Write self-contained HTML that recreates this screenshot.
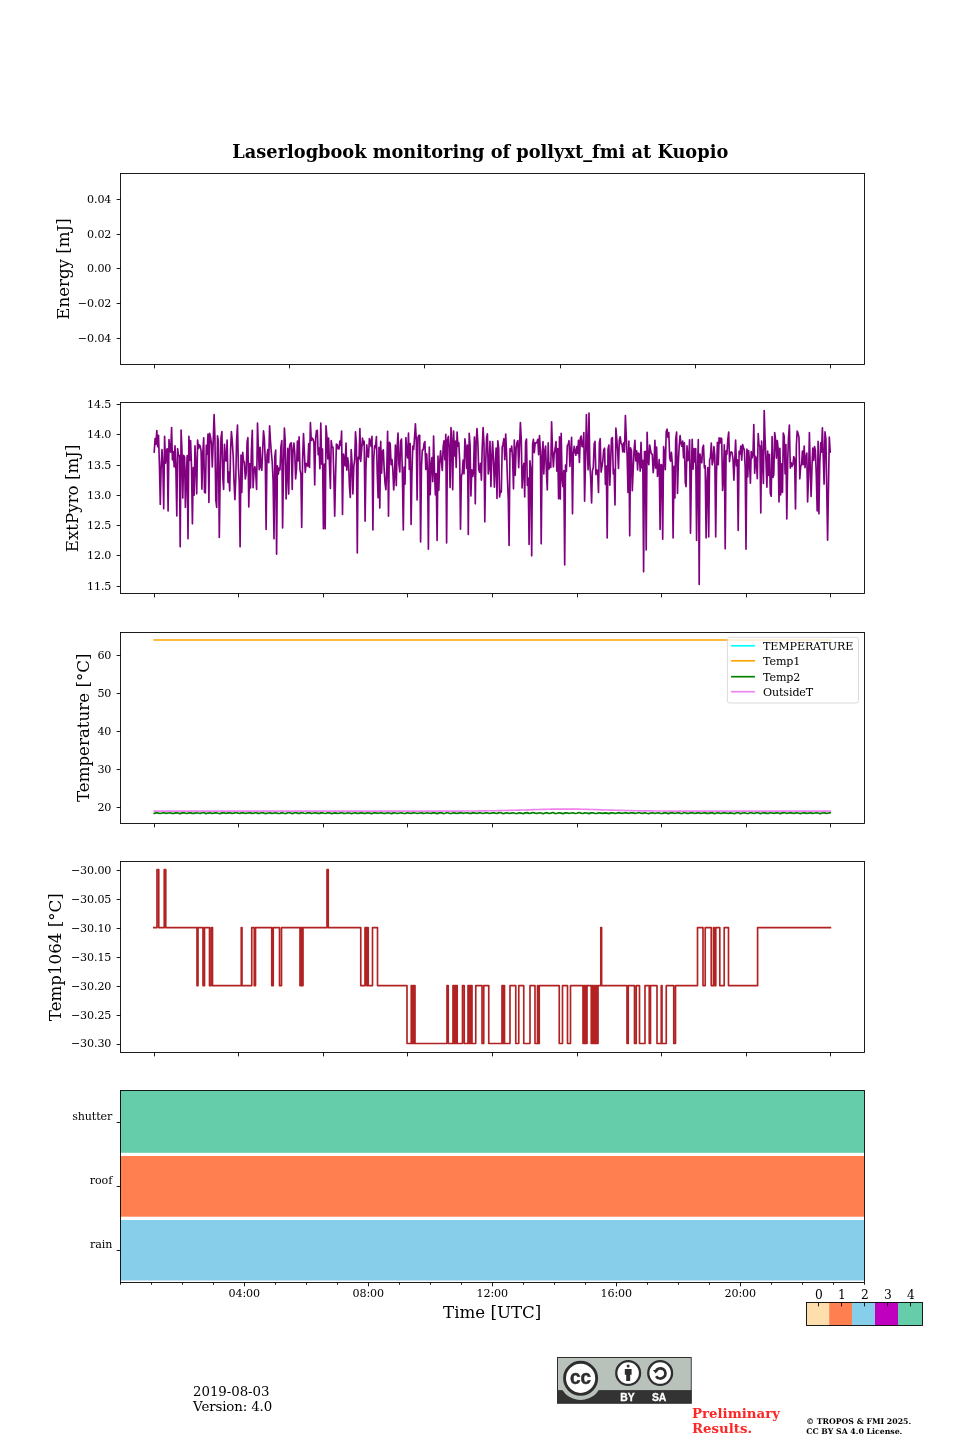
<!DOCTYPE html>
<html lang="en"><head><meta charset="utf-8"><title>Laserlogbook monitoring of pollyxt_fmi at Kuopio</title>
<style>
html,body{margin:0;padding:0;background:#fff;}
body{width:960px;height:1440px;overflow:hidden;}
svg{display:block;}
svg text{font-family:"DejaVu Serif", "Liberation Serif", serif;}
svg text.t{letter-spacing:-0.12px;}
</style></head><body>
<svg width="960" height="1440" viewBox="0 0 960 1440">
<rect width="960" height="1440" fill="#fff"/>
<text x="480.3" y="158" text-anchor="middle" font-size="17.78" font-weight="bold">Laserlogbook monitoring of pollyxt_fmi at Kuopio</text>
<rect x="120.5" y="173.5" width="744.0" height="191.0" fill="none" stroke="#000" stroke-width="0.89"/>
<path d="M154.5 364.5v3.89M289.5 364.5v3.89M424.5 364.5v3.89M560.5 364.5v3.89M695.5 364.5v3.89M830.5 364.5v3.89" stroke="#000" stroke-width="0.89" fill="none"/>
<path d="M120.5 199.5h-3.89M120.5 234.5h-3.89M120.5 268.5h-3.89M120.5 303.5h-3.89M120.5 338.5h-3.89" stroke="#000" stroke-width="0.89" fill="none"/>
<text x="111.3" y="202.82" text-anchor="end" font-size="11.11" class="t">0.04</text>
<text x="111.3" y="237.58" text-anchor="end" font-size="11.11" class="t">0.02</text>
<text x="111.3" y="272.34" text-anchor="end" font-size="11.11" class="t">0.00</text>
<text x="111.3" y="307.09" text-anchor="end" font-size="11.11" class="t">−0.02</text>
<text x="111.3" y="341.85" text-anchor="end" font-size="11.11" class="t">−0.04</text>
<text transform="translate(69.0,268.99) rotate(-90)" text-anchor="middle" font-size="16.67">Energy [mJ]</text>
<rect x="120.5" y="402.5" width="744.0" height="191.0" fill="none" stroke="#000" stroke-width="0.89"/>
<path d="M154.5 593.5v3.89M238.5 593.5v3.89M323.5 593.5v3.89M407.5 593.5v3.89M492.5 593.5v3.89M577.5 593.5v3.89M661.5 593.5v3.89M746.5 593.5v3.89M830.5 593.5v3.89" stroke="#000" stroke-width="0.89" fill="none"/>
<path d="M120.5 404.5h-3.89M120.5 434.5h-3.89M120.5 465.5h-3.89M120.5 495.5h-3.89M120.5 525.5h-3.89M120.5 555.5h-3.89M120.5 586.5h-3.89" stroke="#000" stroke-width="0.89" fill="none"/>
<text x="111.3" y="408.05" text-anchor="end" font-size="11.11" class="t">14.5</text>
<text x="111.3" y="438.30" text-anchor="end" font-size="11.11" class="t">14.0</text>
<text x="111.3" y="468.55" text-anchor="end" font-size="11.11" class="t">13.5</text>
<text x="111.3" y="498.80" text-anchor="end" font-size="11.11" class="t">13.0</text>
<text x="111.3" y="529.05" text-anchor="end" font-size="11.11" class="t">12.5</text>
<text x="111.3" y="559.30" text-anchor="end" font-size="11.11" class="t">12.0</text>
<text x="111.3" y="589.55" text-anchor="end" font-size="11.11" class="t">11.5</text>
<text transform="translate(78.3,498.39) rotate(-90)" text-anchor="middle" font-size="16.67">ExtPyro [mJ]</text>
<polyline points="154.2,452.0 155.1,438.5 155.9,444.3 156.8,430.5 157.7,446.6 158.5,435.3 159.4,463.7 160.3,504.5 161.1,468.2 162.0,449.5 162.9,466.6 163.7,508.8 164.6,436.4 165.5,463.1 166.3,452.0 167.2,448.7 168.1,511.0 169.0,439.5 169.8,450.5 170.7,452.1 171.6,427.5 172.4,459.8 173.3,451.7 174.2,466.9 175.0,445.8 175.9,469.1 176.8,516.0 177.6,448.5 178.5,455.6 179.4,455.5 180.2,546.8 181.1,430.0 182.0,451.5 182.8,498.1 183.7,455.4 184.6,457.1 185.4,507.5 186.3,475.0 187.2,455.6 188.0,538.8 188.9,436.4 189.8,460.4 190.6,440.7 191.5,466.7 192.4,523.8 193.3,467.6 194.1,495.2 195.0,445.9 195.9,467.6 196.7,493.8 197.6,440.2 198.5,448.3 199.3,444.9 200.2,446.1 201.1,451.4 201.9,489.2 202.8,453.4 203.7,437.8 204.5,492.3 205.4,492.9 206.3,445.4 207.1,454.1 208.0,434.1 208.9,502.5 209.7,433.3 210.6,437.7 211.5,444.2 212.3,466.9 213.2,441.1 214.1,414.5 214.9,436.6 215.8,499.8 216.7,507.5 217.5,435.8 218.4,441.2 219.3,537.5 220.2,473.7 221.0,437.5 221.9,431.5 222.8,477.5 223.6,489.4 224.5,444.3 225.4,460.6 226.2,461.0 227.1,440.0 228.0,482.5 228.8,472.0 229.7,490.9 230.6,449.5 231.4,431.7 232.3,441.6 233.2,456.7 234.0,480.7 234.9,499.6 235.8,477.8 236.6,440.1 237.5,425.0 238.4,466.6 239.2,481.8 240.1,546.8 241.0,455.2 241.8,492.4 242.7,452.3 243.6,461.5 244.4,462.2 245.3,478.9 246.2,473.2 247.1,441.8 247.9,437.7 248.8,507.0 249.7,463.7 250.5,488.0 251.4,450.7 252.3,430.3 253.1,487.7 254.0,471.8 254.9,466.7 255.7,472.4 256.6,489.5 257.5,423.0 258.3,446.1 259.2,469.7 260.1,447.4 260.9,466.7 261.8,470.3 262.7,450.0 263.5,430.8 264.4,438.8 265.3,462.1 266.1,529.5 267.0,454.9 267.9,449.5 268.7,462.7 269.6,425.8 270.5,441.6 271.4,453.3 272.2,461.8 273.1,480.5 274.0,538.8 274.8,456.7 275.7,450.1 276.6,554.2 277.4,465.8 278.3,474.1 279.2,468.1 280.0,469.8 280.9,446.8 281.8,440.5 282.6,528.0 283.5,466.5 284.4,428.0 285.2,440.9 286.1,498.9 287.0,473.9 287.8,448.4 288.7,494.1 289.6,446.5 290.4,443.5 291.3,442.8 292.2,489.5 293.0,451.0 293.9,443.2 294.8,453.4 295.6,478.8 296.5,469.0 297.4,441.2 298.3,461.0 299.1,436.9 300.0,469.8 300.9,474.1 301.7,527.5 302.6,459.8 303.5,433.6 304.3,450.5 305.2,472.3 306.1,463.3 306.9,465.6 307.8,466.1 308.7,443.5 309.5,467.5 310.4,422.5 311.3,440.4 312.1,438.0 313.0,439.3 313.9,442.4 314.7,485.0 315.6,438.6 316.5,430.7 317.3,430.4 318.2,454.7 319.1,448.0 319.9,468.7 320.8,423.0 321.7,464.2 322.5,449.1 323.4,528.8 324.3,464.1 325.2,528.8 326.0,425.8 326.9,436.9 327.8,459.0 328.6,438.1 329.5,464.6 330.4,488.5 331.2,440.5 332.1,447.4 333.0,447.0 333.8,475.0 334.7,516.2 335.6,475.5 336.4,444.0 337.3,444.8 338.2,449.0 339.0,449.0 339.9,441.2 340.8,445.4 341.6,431.1 342.5,514.5 343.4,454.0 344.2,458.4 345.1,465.9 346.0,443.1 346.8,470.2 347.7,457.9 348.6,464.3 349.5,487.0 350.3,497.5 351.2,449.7 352.1,464.2 352.9,493.9 353.8,466.4 354.7,459.6 355.5,431.8 356.4,444.2 357.3,553.0 358.1,457.3 359.0,459.1 359.9,428.6 360.7,461.4 361.6,450.2 362.5,438.2 363.3,444.6 364.2,441.2 365.1,521.2 365.9,469.2 366.8,444.9 367.7,456.3 368.5,457.0 369.4,438.6 370.3,440.9 371.1,446.4 372.0,436.4 372.9,530.0 373.7,459.5 374.6,445.9 375.5,447.6 376.4,436.5 377.2,472.0 378.1,497.8 379.0,447.4 379.8,508.0 380.7,441.3 381.6,473.1 382.4,451.9 383.3,449.8 384.2,469.6 385.0,482.8 385.9,489.6 386.8,468.7 387.6,431.3 388.5,516.2 389.4,442.3 390.2,443.6 391.1,464.6 392.0,459.5 392.8,469.2 393.7,490.0 394.6,475.1 395.4,445.2 396.3,485.6 397.2,446.4 398.0,433.0 398.9,464.2 399.8,472.0 400.6,441.2 401.5,439.0 402.4,474.3 403.3,530.0 404.1,467.1 405.0,484.2 405.9,437.7 406.7,451.3 407.6,457.9 408.5,433.1 409.3,469.5 410.2,443.6 411.1,524.5 411.9,474.1 412.8,446.2 413.7,449.4 414.5,438.0 415.4,423.8 416.3,439.9 417.1,499.9 418.0,437.3 418.9,435.3 419.7,435.3 420.6,542.0 421.5,466.2 422.3,450.0 423.2,449.8 424.1,443.4 424.9,441.6 425.8,469.4 426.7,453.9 427.6,472.6 428.4,549.2 429.3,447.0 430.2,494.7 431.0,465.8 431.9,457.5 432.8,481.6 433.6,436.0 434.5,471.2 435.4,494.9 436.2,473.7 437.1,540.5 438.0,456.2 438.8,490.3 439.7,462.0 440.6,450.8 441.4,461.2 442.3,470.5 443.2,446.3 444.0,440.8 444.9,459.8 445.8,434.3 446.6,543.0 447.5,440.0 448.4,436.4 449.2,447.5 450.1,487.6 451.0,427.5 451.8,440.7 452.7,489.7 453.6,431.1 454.5,455.9 455.3,441.0 456.2,467.5 457.1,432.1 457.9,446.1 458.8,442.7 459.7,461.1 460.5,529.2 461.4,475.9 462.3,473.1 463.1,460.0 464.0,473.8 464.9,438.9 465.7,446.0 466.6,468.3 467.5,445.2 468.3,534.5 469.2,433.3 470.1,445.2 470.9,495.9 471.8,469.9 472.7,476.5 473.5,472.1 474.4,437.1 475.3,503.8 476.1,443.2 477.0,428.5 477.9,443.9 478.7,469.3 479.6,472.3 480.5,463.4 481.4,480.1 482.2,447.9 483.1,427.5 484.0,444.3 484.8,521.8 485.7,462.8 486.6,437.4 487.4,433.9 488.3,474.0 489.2,466.6 490.0,441.4 490.9,486.6 491.8,457.8 492.6,441.5 493.5,459.7 494.4,487.2 495.2,465.8 496.1,448.0 497.0,498.4 497.8,440.8 498.7,448.6 499.6,497.0 500.4,490.8 501.3,492.0 502.2,447.1 503.0,444.2 503.9,438.7 504.8,459.6 505.7,434.0 506.5,450.8 507.4,477.8 508.3,499.6 509.1,545.5 510.0,448.8 510.9,451.2 511.7,446.0 512.6,458.9 513.5,488.8 514.3,440.1 515.2,475.3 516.1,448.7 516.9,442.8 517.8,440.6 518.7,467.6 519.5,447.1 520.4,422.5 521.3,440.2 522.1,487.9 523.0,468.6 523.9,463.3 524.7,497.0 525.6,442.1 526.5,439.0 527.3,485.4 528.2,478.0 529.1,544.5 529.9,460.9 530.8,468.7 531.7,555.8 532.6,444.4 533.4,439.4 534.3,452.7 535.2,442.9 536.0,443.1 536.9,442.3 537.8,439.4 538.6,454.6 539.5,435.7 540.4,450.7 541.2,543.8 542.1,456.8 543.0,441.7 543.8,473.9 544.7,451.4 545.6,446.0 546.4,472.0 547.3,490.0 548.2,442.9 549.0,469.0 549.9,463.3 550.8,467.5 551.6,421.8 552.5,450.8 553.4,466.9 554.2,453.6 555.1,449.0 556.0,441.7 556.8,471.1 557.7,448.5 558.6,498.8 559.5,436.8 560.3,499.1 561.2,433.3 562.1,478.6 562.9,486.7 563.8,470.6 564.7,565.0 565.5,465.0 566.4,471.4 567.3,445.4 568.1,444.9 569.0,440.7 569.9,466.5 570.7,451.2 571.6,437.3 572.5,513.8 573.3,454.7 574.2,446.4 575.1,452.0 575.9,455.2 576.8,446.7 577.7,453.5 578.5,440.3 579.4,462.5 580.3,438.6 581.1,436.0 582.0,446.4 582.9,446.8 583.8,432.5 584.6,501.2 585.5,462.4 586.4,414.5 587.2,444.7 588.1,469.8 589.0,413.0 589.8,463.7 590.7,478.1 591.6,503.0 592.4,470.8 593.3,467.6 594.2,443.8 595.0,441.4 595.9,474.6 596.8,470.0 597.6,470.5 598.5,492.5 599.4,442.8 600.2,438.7 601.1,472.1 602.0,466.4 602.8,461.3 603.7,450.0 604.6,448.2 605.4,484.4 606.3,466.0 607.2,538.0 608.0,449.4 608.9,445.0 609.8,485.2 610.7,460.2 611.5,438.5 612.4,437.6 613.3,473.9 614.1,469.5 615.0,505.0 615.9,428.2 616.7,437.6 617.6,450.7 618.5,468.5 619.3,440.1 620.2,436.8 621.1,444.0 621.9,444.0 622.8,452.0 623.7,442.9 624.5,452.1 625.4,415.5 626.3,437.6 627.1,454.3 628.0,492.4 628.9,441.2 629.7,535.8 630.6,447.9 631.5,451.1 632.3,490.7 633.2,469.1 634.1,450.0 634.9,440.4 635.8,461.0 636.7,450.8 637.6,470.0 638.4,453.0 639.3,454.4 640.2,471.1 641.0,442.3 641.9,468.0 642.8,460.3 643.6,571.8 644.5,451.8 645.4,451.4 646.2,550.0 647.1,432.4 648.0,459.4 648.8,464.7 649.7,445.0 650.6,450.8 651.4,453.8 652.3,454.4 653.2,472.6 654.0,465.5 654.9,440.3 655.8,468.1 656.6,447.1 657.5,476.5 658.4,469.5 659.2,459.6 660.1,529.5 661.0,464.5 661.9,465.2 662.7,539.2 663.6,446.5 664.5,453.6 665.3,469.7 666.2,431.5 667.1,429.2 667.9,437.3 668.8,432.6 669.7,457.6 670.5,461.1 671.4,452.3 672.3,463.2 673.1,538.0 674.0,466.4 674.9,498.1 675.7,439.5 676.6,432.1 677.5,493.4 678.3,464.1 679.2,445.8 680.1,435.6 680.9,443.0 681.8,446.2 682.7,441.0 683.5,457.8 684.4,442.9 685.3,482.6 686.1,486.6 687.0,445.9 687.9,460.7 688.8,457.2 689.6,439.8 690.5,533.2 691.4,471.0 692.2,439.3 693.1,469.2 694.0,448.5 694.8,462.0 695.7,448.7 696.6,540.5 697.4,472.9 698.3,439.7 699.2,584.5 700.0,454.2 700.9,461.5 701.8,462.8 702.6,448.1 703.5,445.2 704.4,468.0 705.2,465.9 706.1,538.0 707.0,482.5 707.8,467.6 708.7,537.0 709.6,459.7 710.4,458.0 711.3,443.1 712.2,464.8 713.0,461.2 713.9,446.7 714.8,455.7 715.7,537.0 716.5,473.3 717.4,442.3 718.3,464.7 719.1,437.8 720.0,443.1 720.9,438.0 721.7,438.9 722.6,490.5 723.5,475.1 724.3,444.9 725.2,548.8 726.1,450.8 726.9,454.3 727.8,439.5 728.7,432.1 729.5,461.6 730.4,453.0 731.3,451.8 732.1,452.8 733.0,459.0 733.9,480.1 734.7,461.5 735.6,440.1 736.5,465.9 737.3,459.8 738.2,530.5 739.1,451.4 740.0,453.9 740.8,446.1 741.7,460.2 742.6,444.5 743.4,447.3 744.3,449.9 745.2,467.6 746.0,549.2 746.9,449.2 747.8,476.9 748.6,450.5 749.5,461.1 750.4,483.2 751.2,451.7 752.1,457.8 753.0,454.3 753.8,424.5 754.7,473.3 755.6,456.3 756.4,460.1 757.3,478.6 758.2,433.5 759.0,445.4 759.9,446.0 760.8,513.0 761.6,441.2 762.5,459.0 763.4,483.4 764.2,410.6 765.1,439.6 766.0,460.9 766.9,487.2 767.7,451.2 768.6,475.3 769.5,454.3 770.3,493.6 771.2,496.2 772.1,436.7 772.9,477.4 773.8,474.4 774.7,432.5 775.5,438.8 776.4,458.1 777.3,440.6 778.1,448.1 779.0,501.9 779.9,448.3 780.7,494.9 781.6,463.8 782.5,492.4 783.3,433.0 784.2,436.5 785.1,473.8 785.9,444.5 786.8,518.9 787.7,460.8 788.5,437.7 789.4,425.0 790.3,468.1 791.1,462.6 792.0,466.4 792.9,464.5 793.8,456.7 794.6,459.0 795.5,509.0 796.4,445.0 797.2,431.0 798.1,433.6 799.0,437.4 799.8,478.8 800.7,466.1 801.6,464.6 802.4,451.2 803.3,464.6 804.2,446.1 805.0,467.6 805.9,457.6 806.8,453.1 807.6,501.9 808.5,478.1 809.4,432.5 810.2,466.2 811.1,496.4 812.0,466.0 812.8,448.0 813.7,460.5 814.6,446.6 815.4,450.9 816.3,475.3 817.2,511.0 818.1,441.4 818.9,513.8 819.8,462.9 820.7,442.8 821.5,452.1 822.4,427.8 823.3,458.1 824.1,484.1 825.0,431.8 825.9,439.0 826.7,486.3 827.6,540.2 828.5,486.4 829.3,437.0 830.2,452.0" fill="none" stroke="#800080" stroke-width="1.67" stroke-linejoin="round" stroke-linecap="square"/>
<rect x="120.5" y="632.5" width="744.0" height="191.0" fill="none" stroke="#000" stroke-width="0.89"/>
<path d="M154.5 823.5v3.89M238.5 823.5v3.89M323.5 823.5v3.89M407.5 823.5v3.89M492.5 823.5v3.89M577.5 823.5v3.89M661.5 823.5v3.89M746.5 823.5v3.89M830.5 823.5v3.89" stroke="#000" stroke-width="0.89" fill="none"/>
<path d="M120.5 655.5h-3.89M120.5 693.5h-3.89M120.5 731.5h-3.89M120.5 769.5h-3.89M120.5 807.5h-3.89" stroke="#000" stroke-width="0.89" fill="none"/>
<text x="111.3" y="659.25" text-anchor="end" font-size="11.11" class="t">60</text>
<text x="111.3" y="697.25" text-anchor="end" font-size="11.11" class="t">50</text>
<text x="111.3" y="735.25" text-anchor="end" font-size="11.11" class="t">40</text>
<text x="111.3" y="773.25" text-anchor="end" font-size="11.11" class="t">30</text>
<text x="111.3" y="811.25" text-anchor="end" font-size="11.11" class="t">20</text>
<text transform="translate(88.9,727.80) rotate(-90)" text-anchor="middle" font-size="16.67">Temperature [°C]</text>
<path d="M154.2 640.0H830.2" stroke="#ffa500" stroke-width="1.67" stroke-linecap="square" fill="none"/>
<polyline points="154.2,813.49 156.2,812.63 158.2,813.06 160.2,813.53 162.2,812.98 164.2,812.66 166.2,813.41 168.2,813.02 170.2,812.74 172.1,813.45 174.1,813.44 176.1,812.65 178.1,813.17 180.1,813.62 182.1,812.87 184.1,812.75 186.1,813.47 188.1,813.08 190.1,812.62 192.1,813.35 194.1,813.39 196.1,812.80 198.1,813.00 200.1,813.54 202.1,812.66 204.1,812.76 206.0,813.63 208.0,813.06 210.0,812.82 212.0,813.40 214.0,813.15 216.0,812.62 218.0,813.22 220.0,813.62 222.0,812.90 224.0,812.92 226.0,813.52 228.0,812.86 230.0,812.77 232.0,813.37 234.0,813.14 236.0,812.50 238.0,813.10 239.9,813.51 241.9,812.61 243.9,813.13 245.9,813.43 247.9,813.03 249.9,812.65 251.9,813.35 253.9,813.25 255.9,812.58 257.9,813.37 259.9,813.32 261.9,812.56 263.9,813.13 265.9,813.60 267.9,812.98 269.9,812.88 271.9,813.39 273.8,813.16 275.8,812.73 277.8,813.34 279.8,813.50 281.8,812.60 283.8,813.25 285.8,813.59 287.8,812.67 289.8,812.71 291.8,813.58 293.8,813.16 295.8,812.56 297.8,813.35 299.8,813.39 301.8,812.56 303.8,813.28 305.8,813.50 307.7,812.64 309.7,812.87 311.7,813.57 313.7,812.98 315.7,812.77 317.7,813.34 319.7,813.35 321.7,812.61 323.7,813.27 325.7,813.51 327.7,812.71 329.7,812.93 331.7,813.64 333.7,813.08 335.7,812.84 337.7,813.50 339.7,813.14 341.6,812.52 343.6,813.43 345.6,813.49 347.6,812.80 349.6,812.97 351.6,813.58 353.6,813.03 355.6,812.89 357.6,813.54 359.6,813.09 361.6,812.64 363.6,813.45 365.6,813.35 367.6,812.73 369.6,813.11 371.6,813.65 373.6,812.93 375.5,812.77 377.5,813.38 379.5,813.01 381.5,812.66 383.5,813.41 385.5,813.43 387.5,812.78 389.5,813.01 391.5,813.61 393.5,812.89 395.5,813.00 397.5,813.57 399.5,812.96 401.5,812.81 403.5,813.52 405.5,813.34 407.5,812.78 409.4,813.16 411.4,813.36 413.4,812.77 415.4,813.03 417.4,813.46 419.4,813.04 421.4,812.87 423.4,813.39 425.4,813.26 427.4,812.70 429.4,813.25 431.4,813.36 433.4,812.64 435.4,813.08 437.4,813.63 439.4,812.90 441.4,812.65 443.3,813.59 445.3,813.25 447.3,812.58 449.3,813.34 451.3,813.52 453.3,812.80 455.3,813.07 457.3,813.53 459.3,812.88 461.3,812.73 463.3,813.43 465.3,813.01 467.3,812.73 469.3,813.33 471.3,813.38 473.3,812.64 475.3,813.13 477.2,813.41 479.2,812.67 481.2,813.02 483.2,813.50 485.2,812.93 487.2,812.73 489.2,813.50 491.2,813.20 493.2,812.68 495.2,813.13 497.2,813.50 499.2,812.62 501.2,812.78 503.2,813.70 505.2,813.10 507.2,812.72 509.1,813.47 511.1,813.18 513.1,812.73 515.1,813.22 517.1,813.59 519.1,812.81 521.1,813.07 523.1,813.69 525.1,812.86 527.1,812.62 529.1,813.40 531.1,813.10 533.1,812.53 535.1,813.16 537.1,813.44 539.1,812.81 541.1,813.03 543.0,813.68 545.0,813.00 547.0,812.67 549.0,813.54 551.0,813.10 553.0,812.55 555.0,813.49 557.0,813.30 559.0,812.69 561.0,813.14 563.0,813.66 565.0,812.88 567.0,812.82 569.0,813.52 571.0,812.97 573.0,812.82 575.0,813.54 576.9,813.24 578.9,812.52 580.9,813.09 582.9,813.46 584.9,812.90 586.9,813.02 588.9,813.65 590.9,812.88 592.9,812.80 594.9,813.50 596.9,813.32 598.9,812.80 600.9,813.08 602.9,813.37 604.9,812.82 606.9,813.09 608.9,813.60 610.8,812.89 612.8,812.77 614.8,813.55 616.8,813.10 618.8,812.60 620.8,813.20 622.8,813.32 624.8,812.70 626.8,812.92 628.8,813.47 630.8,812.79 632.8,812.84 634.8,813.36 636.8,813.22 638.8,812.57 640.8,813.19 642.8,813.52 644.7,812.60 646.7,813.21 648.7,813.64 650.7,812.96 652.7,812.72 654.7,813.51 656.7,812.97 658.7,812.80 660.7,813.48 662.7,813.38 664.7,812.65 666.7,813.09 668.7,813.61 670.7,812.79 672.7,812.92 674.7,813.44 676.7,812.95 678.6,812.57 680.6,813.49 682.6,813.31 684.6,812.55 686.6,813.31 688.6,813.42 690.6,812.73 692.6,812.83 694.6,813.48 696.6,813.08 698.6,812.68 700.6,813.36 702.6,813.23 704.6,812.60 706.6,813.37 708.6,813.34 710.6,812.86 712.5,812.86 714.5,813.67 716.5,812.97 718.5,812.68 720.5,813.49 722.5,813.11 724.5,812.58 726.5,813.22 728.5,813.37 730.5,812.84 732.5,813.20 734.5,813.67 736.5,812.74 738.5,812.75 740.5,813.64 742.5,812.98 744.5,812.74 746.4,813.30 748.4,813.51 750.4,812.52 752.4,813.20 754.4,813.47 756.4,812.71 758.4,812.71 760.4,813.64 762.4,813.06 764.4,812.60 766.4,813.39 768.4,813.44 770.4,812.57 772.4,813.19 774.4,813.39 776.4,812.68 778.4,813.00 780.3,813.61 782.3,812.91 784.3,812.59 786.3,813.32 788.3,813.29 790.3,812.65 792.3,813.16 794.3,813.38 796.3,812.77 798.3,813.03 800.3,813.64 802.3,812.96 804.3,812.66 806.3,813.35 808.3,813.27 810.3,812.62 812.3,813.35 814.2,813.29 816.2,812.79 818.2,812.98 820.2,813.65 822.2,812.99 824.2,812.79 826.2,813.37 828.2,813.26 830.2,812.66" fill="none" stroke="#008000" stroke-width="1.67" stroke-linecap="square" stroke-linejoin="round"/>
<polyline points="154.2,811.10 159.1,811.10 163.9,811.10 168.8,811.10 173.7,811.10 178.5,811.10 183.4,811.10 188.2,811.10 193.1,811.10 198.0,811.10 202.8,811.10 207.7,811.10 212.6,811.10 217.4,811.10 222.3,811.10 227.1,811.10 232.0,811.10 236.9,811.10 241.7,811.10 246.6,811.10 251.5,811.10 256.3,811.10 261.2,811.10 266.1,811.10 270.9,811.10 275.8,811.10 280.6,811.10 285.5,811.10 290.4,811.10 295.2,811.10 300.1,811.10 305.0,811.10 309.8,811.10 314.7,811.10 319.6,811.10 324.4,811.10 329.3,811.10 334.1,811.10 339.0,811.10 343.9,811.10 348.7,811.10 353.6,811.10 358.5,811.10 363.3,811.10 368.2,811.10 373.0,811.10 377.9,811.10 382.8,811.10 387.6,811.10 392.5,811.10 397.4,811.10 402.2,811.10 407.1,811.10 412.0,811.10 416.8,811.10 421.7,811.10 426.5,811.10 431.4,811.09 436.3,811.09 441.1,811.09 446.0,811.08 450.9,811.07 455.7,811.06 460.6,811.05 465.5,811.02 470.3,811.00 475.2,810.96 480.0,810.92 484.9,810.86 489.8,810.79 494.6,810.71 499.5,810.62 504.4,810.51 509.2,810.38 514.1,810.25 518.9,810.11 523.8,809.96 528.7,809.81 533.5,809.66 538.4,809.52 543.3,809.39 548.1,809.28 553.0,809.19 557.9,809.13 562.7,809.10 567.6,809.10 572.4,809.14 577.3,809.20 582.2,809.29 587.0,809.40 591.9,809.53 596.8,809.67 601.6,809.82 606.5,809.97 611.4,810.12 616.2,810.26 621.1,810.39 625.9,810.51 630.8,810.62 635.7,810.72 640.5,810.80 645.4,810.86 650.3,810.92 655.1,810.96 660.0,811.00 664.8,811.03 669.7,811.05 674.6,811.06 679.4,811.07 684.3,811.08 689.2,811.09 694.0,811.09 698.9,811.09 703.8,811.10 708.6,811.10 713.5,811.10 718.3,811.10 723.2,811.10 728.1,811.10 732.9,811.10 737.8,811.10 742.7,811.10 747.5,811.10 752.4,811.10 757.3,811.10 762.1,811.10 767.0,811.10 771.8,811.10 776.7,811.10 781.6,811.10 786.4,811.10 791.3,811.10 796.2,811.10 801.0,811.10 805.9,811.10 810.7,811.10 815.6,811.10 820.5,811.10 825.3,811.10 830.2,811.10" fill="none" stroke="#ee82ee" stroke-width="1.67" stroke-linecap="square" stroke-linejoin="round"/>
<rect x="727.4" y="637.3" width="131.1" height="65.7" rx="2.2" ry="2.2" fill="#fff" fill-opacity="0.8" stroke="#ccc" stroke-opacity="0.8" stroke-width="0.89"/>
<path d="M731.9 645.80h22.2" stroke="#00ffff" stroke-width="1.67" stroke-linecap="square"/>
<text x="763.0" y="649.70" font-size="11.11" class="t">TEMPERATURE</text>
<path d="M731.9 660.80h22.2" stroke="#ffa500" stroke-width="1.67" stroke-linecap="square"/>
<text x="763.0" y="664.70" font-size="11.11" class="t">Temp1</text>
<path d="M731.9 676.70h22.2" stroke="#008000" stroke-width="1.67" stroke-linecap="square"/>
<text x="763.0" y="680.60" font-size="11.11" class="t">Temp2</text>
<path d="M731.9 691.70h22.2" stroke="#ee82ee" stroke-width="1.67" stroke-linecap="square"/>
<text x="763.0" y="695.60" font-size="11.11" class="t">OutsideT</text>
<rect x="120.5" y="861.5" width="744.0" height="191.0" fill="none" stroke="#000" stroke-width="0.89"/>
<path d="M154.5 1052.5v3.89M238.5 1052.5v3.89M323.5 1052.5v3.89M407.5 1052.5v3.89M492.5 1052.5v3.89M577.5 1052.5v3.89M661.5 1052.5v3.89M746.5 1052.5v3.89M830.5 1052.5v3.89" stroke="#000" stroke-width="0.89" fill="none"/>
<path d="M120.5 870.5h-3.89M120.5 899.5h-3.89M120.5 928.5h-3.89M120.5 957.5h-3.89M120.5 986.5h-3.89M120.5 1015.5h-3.89M120.5 1044.5h-3.89" stroke="#000" stroke-width="0.89" fill="none"/>
<text x="111.3" y="873.65" text-anchor="end" font-size="11.11" class="t">−30.00</text>
<text x="111.3" y="902.62" text-anchor="end" font-size="11.11" class="t">−30.05</text>
<text x="111.3" y="931.59" text-anchor="end" font-size="11.11" class="t">−30.10</text>
<text x="111.3" y="960.56" text-anchor="end" font-size="11.11" class="t">−30.15</text>
<text x="111.3" y="989.53" text-anchor="end" font-size="11.11" class="t">−30.20</text>
<text x="111.3" y="1018.50" text-anchor="end" font-size="11.11" class="t">−30.25</text>
<text x="111.3" y="1047.47" text-anchor="end" font-size="11.11" class="t">−30.30</text>
<text transform="translate(61.2,957.21) rotate(-90)" text-anchor="middle" font-size="16.67">Temp1064 [°C]</text>
<path d="M153.8 927.6H157V869.7H158.75V927.6H164.25V869.7H165.75V927.6H197V985.6H198V927.6H203V985.6H204.5V927.6H209.5V985.6H211.25V927.6H212.5V985.6H241.25V927.6H242V985.6H251.75V927.6H254.25V985.6H255.5V927.6H271.75V985.6H273.25V927.6H279.5V985.6H281.5V927.6H300V985.6H300.8V927.6H301.6V985.6H302.3V927.6H302.6V985.6H303V927.6H327V869.7H328.25V927.6H360.75V985.6H365V927.6H366.6V985.6H367.2V927.6H368.25V985.6H372.5V927.6H377.5V985.6H407V1043.5H411.25V985.6H412V1043.5H412.8V985.6H413.5V1043.5H414.2V985.6H415V1043.5H447V985.6H448.25V1043.5H453V985.6H454V1043.5H454.8V985.6H455.6V1043.5H456.25V985.6H457.2V1043.5H462.5V985.6H464.25V1043.5H468V985.6H469V1043.5H469.8V985.6H470.6V1043.5H471.4V985.6H472V1043.5H475.75V985.6H482V1043.5H483.75V985.6H488.75V1043.5H502V985.6H502.8V1043.5H503.6V985.6H504.5V1043.5H510V985.6H515.75V1043.5H518.75V985.6H523.75V1043.5H530V985.6H535V1043.5H537.5V985.6H538.2V1043.5H539.25V985.6H559.25V1043.5H562.5V985.6H567.5V1043.5H570.5V985.6H583V1043.5H584V985.6H585V1043.5H586V985.6H586.5V1043.5H587V985.6H591.25V1043.5H592V985.6H593V1043.5H594V985.6H595V1043.5H596V985.6H597V1043.5H598V985.6H600.8V927.6H601.6V985.6H627V1043.5H628.25V985.6H634.5V1043.5H636.25V985.6H639.5V1043.5H645V985.6H649.25V1043.5H650.5V985.6H657V1043.5H661.25V985.6H662V1043.5H666.25V985.6H673.75V1043.5H675.5V985.6H697.5V927.6H703V985.6H705.2V927.6H711.25V985.6H713.5V927.6H714.2V985.6H715.8V927.6H719.8V985.6H724.2V927.6H728.5V985.6H757.6V927.6H830.4" fill="none" stroke="#b22222" stroke-width="1.67" stroke-linejoin="round" stroke-linecap="square"/>
<rect x="120.0" y="1090.4275862068966" width="744.0" height="63.72" fill="#66cdaa"/>
<rect x="120.0" y="1154.15" width="744.0" height="63.72" fill="#ff7f50"/>
<rect x="120.0" y="1217.88" width="744.0" height="63.72" fill="#87ceeb"/>
<rect x="120.0" y="1152.8" width="744.0" height="3.2" fill="#fff"/>
<rect x="120.0" y="1216.7" width="744.0" height="3.3" fill="#fff"/>
<rect x="120.0" y="1280.5" width="744.0" height="1.6" fill="#fff"/>
<rect x="120.5" y="1090.5" width="744.0" height="192.0" fill="none" stroke="#000" stroke-width="0.89"/>
<path d="M244.5 1282.5v3.89M368.5 1282.5v3.89M492.5 1282.5v3.89M616.5 1282.5v3.89M740.5 1282.5v3.89" stroke="#000" stroke-width="0.89" fill="none"/>
<path d="M120.5 1282.5v2.22M151.5 1282.5v2.22M182.5 1282.5v2.22M213.5 1282.5v2.22M275.5 1282.5v2.22M306.5 1282.5v2.22M337.5 1282.5v2.22M399.5 1282.5v2.22M430.5 1282.5v2.22M461.5 1282.5v2.22M523.5 1282.5v2.22M554.5 1282.5v2.22M585.5 1282.5v2.22M647.5 1282.5v2.22M678.5 1282.5v2.22M709.5 1282.5v2.22M771.5 1282.5v2.22M802.5 1282.5v2.22M833.5 1282.5v2.22M864.5 1282.5v2.22" stroke="#000" stroke-width="0.89" fill="none"/>
<text x="244.3" y="1296.8" text-anchor="middle" font-size="11.11" class="t">04:00</text>
<text x="368.3" y="1296.8" text-anchor="middle" font-size="11.11" class="t">08:00</text>
<text x="492.3" y="1296.8" text-anchor="middle" font-size="11.11" class="t">12:00</text>
<text x="616.3" y="1296.8" text-anchor="middle" font-size="11.11" class="t">16:00</text>
<text x="740.3" y="1296.8" text-anchor="middle" font-size="11.11" class="t">20:00</text>
<path d="M120.5 1122.5h-3.89M120.5 1186.5h-3.89M120.5 1250.5h-3.89" stroke="#000" stroke-width="0.89" fill="none"/>
<text x="112.2" y="1120" text-anchor="end" font-size="11.11" class="t">shutter</text>
<text x="112.2" y="1184.2" text-anchor="end" font-size="11.11" class="t">roof</text>
<text x="112.2" y="1248" text-anchor="end" font-size="11.11" class="t">rain</text>
<text x="492.2" y="1318" text-anchor="middle" font-size="16.67">Time [UTC]</text>
<rect x="806.50" y="1302.5" width="23.00" height="23.0" fill="#ffdead"/>
<rect x="829.20" y="1302.5" width="23.10" height="23.0" fill="#ff7f50"/>
<rect x="852.00" y="1302.5" width="23.30" height="23.0" fill="#87ceeb"/>
<rect x="875.00" y="1302.5" width="23.30" height="23.0" fill="#bf00bf"/>
<rect x="898.00" y="1302.5" width="24.50" height="23.0" fill="#66cdaa"/>
<rect x="806.5" y="1302.5" width="116.0" height="23.0" fill="none" stroke="#000" stroke-width="0.89"/>
<path d="M818.5 1302.5v3.89M841.5 1302.5v3.89M864.5 1302.5v3.89M887.5 1302.5v3.89M910.5 1302.5v3.89" stroke="#000" stroke-width="0.89" fill="none"/>
<text x="818.9" y="1298.7" text-anchor="middle" font-size="12.22">0</text>
<text x="841.9" y="1298.7" text-anchor="middle" font-size="12.22">1</text>
<text x="864.9" y="1298.7" text-anchor="middle" font-size="12.22">2</text>
<text x="887.8000000000001" y="1298.7" text-anchor="middle" font-size="12.22">3</text>
<text x="910.8000000000001" y="1298.7" text-anchor="middle" font-size="12.22">4</text>
<text x="193.1" y="1395.6" font-size="13.33" style="letter-spacing:-0.06px">2019-08-03</text>
<text x="193.1" y="1410.6" font-size="13.33" style="letter-spacing:-0.11px">Version: 4.0</text>
<text x="692" y="1418" font-size="13.33" font-weight="bold" fill="#ff2626">Preliminary</text>
<text x="692" y="1433" font-size="13.33" font-weight="bold" fill="#ff2626">Results.</text>
<text x="806.3" y="1424.0" font-size="7.78" font-weight="bold">© TROPOS &amp; FMI 2025.</text>
<text x="806.3" y="1434.3" font-size="7.78" font-weight="bold">CC BY SA 4.0 License.</text>
<clipPath id="bc"><rect x="557" y="1357" width="134.8" height="46.7"/></clipPath><g clip-path="url(#bc)">
<rect x="557" y="1357" width="134.8" height="46.7" fill="#b9c1bb"/>
<rect x="557" y="1390.1" width="134.8" height="13.6" fill="#333"/>
<circle cx="580.6" cy="1378.3" r="21.7" fill="#b9c1bb"/>
<circle cx="580.6" cy="1378.3" r="16.05" fill="#fff" stroke="#2e2e2e" stroke-width="2.9"/>
<text x="580.6" y="1383.9" text-anchor="middle" style="font-family:'Liberation Sans','DejaVu Sans',sans-serif" font-weight="bold" font-size="21" fill="#2e2e2e" stroke="#2e2e2e" stroke-width="0.5" textLength="21" lengthAdjust="spacingAndGlyphs">cc</text>
<circle cx="628.15" cy="1373.05" r="11.9" fill="#fff" stroke="#2e2e2e" stroke-width="2.3"/>
<circle cx="628.15" cy="1365.95" r="1.5" fill="#2e2e2e"/>
<path d="M624.8 1369.0h6.8v5.8h-1.4v6.2h-4v-6.2h-1.4z" fill="#2e2e2e"/>
<circle cx="660.15" cy="1373.05" r="11.9" fill="#fff" stroke="#2e2e2e" stroke-width="2.3"/>
<path d="M655.7 1371.4 A5.1 5.1 0 1 1 656.1 1376.2" fill="none" stroke="#2e2e2e" stroke-width="2.7"/>
<path d="M652.9 1370.1h5.6l-2.8 3.5z" fill="#2e2e2e"/>
<text x="627.4" y="1400.7" text-anchor="middle" style="font-family:'Liberation Sans','DejaVu Sans',sans-serif" font-weight="bold" font-size="10.4" fill="#fff" stroke="#fff" stroke-width="0.3">BY</text>
<text x="659.1" y="1400.7" text-anchor="middle" style="font-family:'Liberation Sans','DejaVu Sans',sans-serif" font-weight="bold" font-size="10.4" fill="#fff" stroke="#fff" stroke-width="0.3">SA</text>
<rect x="557.5" y="1357.5" width="133.8" height="45.7" fill="none" stroke="#2e2e2e" stroke-width="1"/>
</g>
</svg>
</body></html>
